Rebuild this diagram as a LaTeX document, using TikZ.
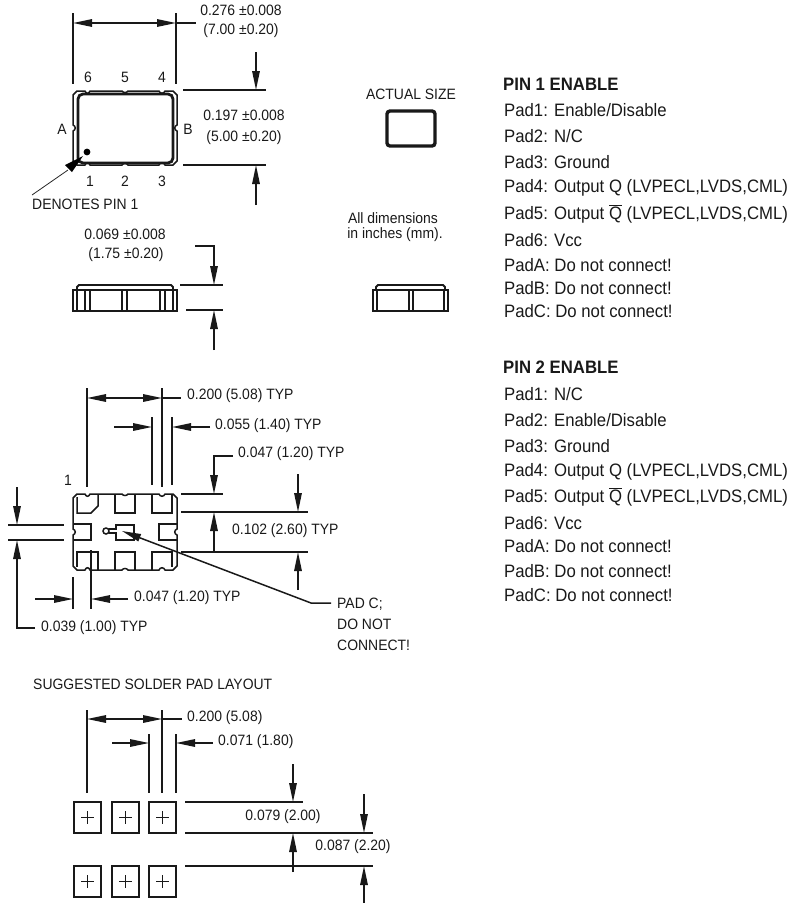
\documentclass[tikz,border=0pt]{standalone}
\usepackage{fontspec}
\setmainfont[FakeStretch=0.93]{Liberation Sans}
\usetikzlibrary{arrows.meta}
\tikzset{
  ln/.style={line width=1.5pt,black!90},
  thin ln/.style={line width=0.8pt,black!85},
  dimA/.style={ln,-{Triangle[length=19pt,width=7.5pt]}},
  dimB/.style={ln,{Triangle[length=19pt,width=7.5pt]}-{Triangle[length=19pt,width=7.5pt]}},
  txt/.style={inner sep=0pt,anchor=west,font=\fontsize{15}{15}\selectfont,text=black!90},
  ctr/.style={txt,anchor=center},
  pin/.style={inner sep=0pt,anchor=west,font=\fontsize{18}{18}\selectfont,text=black!90},
  hd/.style={pin,font=\fontsize{18}{18}\selectfont\bfseries},
  square/.style={line width=1.5pt,black!90}
}
\newcommand{\Outline}[2]{%
  \pgfmathsetmacro{\mm}{(#1+#2)/2}%
  \draw[ln] (77,#1) -- (85,#1) .. controls (86,{#1+3}) and (89,{#1+3}) .. (90,#1)
    -- (122,#1) .. controls (123,{#1+2}) and (127,{#1+2}) .. (128,#1)
    -- (159,#1) .. controls (160,{#1+3}) and (164,{#1+3}) .. (165,#1)
    -- (173,#1) -- (177,{#1+4}) -- (177,{\mm-3}) .. controls (174,{\mm-2}) and (174,{\mm+2}) .. (177,{\mm+3})
    -- (177,{#2-4}) -- (173,#2) -- (165,#2) .. controls (164,{#2-3}) and (160,{#2-3}) .. (159,#2)
    -- (128,#2) .. controls (127,{#2-2}) and (123,{#2-2}) .. (122,#2)
    -- (90,#2) .. controls (89,{#2-3}) and (86,{#2-3}) .. (85,#2)
    -- (77,#2) -- (73,{#2-4}) -- (73,{\mm+3}) .. controls (76,{\mm+2}) and (76,{\mm-2}) .. (73,{\mm-3})
    -- (73,{#1+4}) -- cycle;}
\newcommand{\SqPad}[2]{%
  \draw[square] (#1,#2) rectangle ++(27,31);
  \draw[ln] ({#1+13.5-6.5},{#2+15.5}) -- ++(13,0) ({#1+13.5},{#2+9}) -- ++(0,13);}
\newcommand{\Qb}{$\overline{\mbox{Q}}$}
\begin{document}
\begin{tikzpicture}[x=1pt,y=-1pt]
\useasboundingbox (0,0) rectangle (789,903);
% ---- top view
\Outline{91}{165}
\draw[line width=2.8pt,black!90,rounded corners=5pt] (78,94) rectangle (173,163);
\fill[black] (87,152) circle (3.4);
\draw[ln] (73,13) -- (73,84) (176,13) -- (176,84);
\draw[dimB] (73,23) -- (176,23);
\draw[ln] (176,23) -- (196,23);
\node[ctr] (t1) at (241,10) {0.276 ±0.008};
\node[ctr] (t2) at (241,31) {(7.00 ±0.20)};
\foreach \n/\x/\l in {a6/88/6,a5/125/5,a4/162/4}{\node[ctr] (\n) at (\x,77) {\l};}
\foreach \n/\x/\l in {a1/90/1,a2/125/2,a3/162/3}{\node[ctr] (\n) at (\x,181) {\l};}
\node[ctr] (aA) at (62,129) {A};
\node[ctr] (aB) at (188,129) {B};
\draw[ln] (183,90) -- (266,90) (183,165) -- (266,165);
\draw[dimA] (256,52) -- (256,90);
\draw[dimA] (256,205) -- (256,165);
\node[ctr] (t3) at (244,115) {0.197 ±0.008};
\node[ctr] (t4) at (244,138) {(5.00 ±0.20)};
\fill[black] (83,156) -- (72,172) -- (65,165) -- cycle;
\draw[thin ln] (32,195) -- (68,170);
\node[txt] (den) at (32,204) {DENOTES PIN 1};
% ---- side view
\draw[ln] (73,290) rectangle (177,311);
\draw[line width=1.8pt,black!90] (77,290) -- (77,287) -- (79,285) -- (171,285) -- (173,287) -- (173,290);
\foreach \x in {77,85,90,122,127,160,165,173}{\draw[ln] (\x,290) -- (\x,311);}
\node[ctr] (s1) at (125,234) {0.069 ±0.008};
\node[ctr] (s2) at (126,255) {(1.75 ±0.20)};
\draw[dimA] (195,246) -- (214,246) -- (214,285);
\draw[ln] (180,285) -- (223,285) (186,310) -- (223,310);
\draw[dimA] (214,350) -- (214,310);
% ---- actual size
\node[ctr] (act) at (411,94) {ACTUAL SIZE};
\draw[line width=3.4pt,black!90,rounded corners=3pt] (387,111) rectangle (435,146);
\node[ctr] (all1) at (393,218) {All dimensions};
\node[ctr] (all2) at (395,235) {in inches (mm).};
\draw[ln] (373,290) rectangle (448,311);
\draw[line width=1.8pt,black!90] (376,290) -- (376,287) -- (378,285) -- (443,285) -- (445,287) -- (445,290);
\foreach \x in {377,409,413,444}{\draw[ln] (\x,290) -- (\x,311);}
% ---- bottom view
\Outline{494}{570}
\draw[ln] (77,497) -- (77,513) -- (91,513) -- (98,506) -- (98,494);
\draw[ln] (115,494) -- (115,513) -- (135,513) -- (135,494);
\draw[ln] (152,494) -- (152,513) -- (172,513) -- (172,494);
\draw[ln] (73,524) -- (91,524) -- (91,540) -- (73,540);
\draw[ln] (177,524) -- (159,524) -- (159,540) -- (177,540);
\draw[ln] (77,567) -- (77,552) -- (98,552) -- (98,570);
\draw[ln] (115,570) -- (115,552) -- (135,552) -- (135,570);
\draw[ln] (152,570) -- (152,552) -- (172,552) -- (172,567);
\draw[ln] (109,529) -- (116,529) -- (116,525) -- (134,525) -- (134,540) -- (116,540) -- (116,533) -- (109,533);
\draw[ln] (106,531) circle (3);
\node[ctr] (one) at (68,480) {1};
\draw[ln] (87,388) -- (87,487) (162,388) -- (162,487);
\draw[dimB] (87,398) -- (162,398);
\draw[ln] (162,398) -- (181,398);
\node[txt] (b1) at (187,396) {0.200 (5.08) TYP};
\draw[ln] (152,417) -- (152,485) (172,417) -- (172,485);
\draw[dimA] (114,427) -- (152,427);
\draw[dimA] (210,427) -- (172,427);
\node[txt] (b2) at (215,426) {0.055 (1.40) TYP};
\draw[dimA] (233,456) -- (214,456) -- (214,494);
\draw[ln] (181,494) -- (223,494) (181,512) -- (308,512) (181,552) -- (308,552);
\draw[dimA] (214,552) -- (214,512);
\node[txt] (b3) at (238,454) {0.047 (1.20) TYP};
\draw[dimA] (298,474) -- (298,512);
\draw[dimA] (298,590) -- (298,552);
\node[txt] (b4) at (232,531) {0.102 (2.60) TYP};
\draw[dimA] (331,603) -- (311,603) -- (122,531);
\node[txt] (p1) at (337,604) {PAD C;};
\node[txt] (p2) at (337,624) {DO NOT};
\node[txt] (p3) at (337,645) {CONNECT!};
\draw[ln] (8,525) -- (64,525) (8,540) -- (64,540);
\draw[dimA] (17,487) -- (17,525);
\draw[dimA] (35,628) -- (17,628) -- (17,540);
\node[txt] (b5) at (41,628) {0.039 (1.00) TYP};
\draw[ln] (73,577) -- (73,609) (91,550) -- (91,609);
\draw[dimA] (35,599) -- (73,599);
\draw[dimA] (128,599) -- (91,599);
\node[txt] (b6) at (134,598) {0.047 (1.20) TYP};
% ---- solder layout
\node[txt] (sg) at (33,684) {SUGGESTED SOLDER PAD LAYOUT};
\draw[ln] (87,710) -- (87,793) (162,710) -- (162,793);
\draw[dimB] (87,719) -- (162,719);
\draw[ln] (162,719) -- (182,719);
\node[txt] (l1) at (187,718) {0.200 (5.08)};
\draw[ln] (149,734) -- (149,793) (176,734) -- (176,793);
\draw[dimA] (112,743) -- (149,743);
\draw[dimA] (213,743) -- (176,743);
\node[txt] (l2) at (218,742) {0.071 (1.80)};
\SqPad{74}{802}\SqPad{112}{802}\SqPad{149}{802}
\SqPad{74}{866}\SqPad{112}{866}\SqPad{149}{866}
\draw[ln] (185,802) -- (303,802) (185,833) -- (373,833) (185,866) -- (373,866);
\draw[dimA] (293,764) -- (293,802);
\draw[dimA] (293,872) -- (293,833);
\node[ctr] (l3) at (283,817) {0.079 (2.00)};
\draw[dimA] (364,794) -- (364,833);
\draw[dimA] (364,903) -- (364,866);
\node[ctr] (l4) at (353,847) {0.087 (2.20)};
% ---- right text
\node[hd] (h1) at (503,84) {PIN 1 ENABLE};
\node[pin] (r1) at (504,110) {Pad1: Enable/Disable};
\node[pin] (r2) at (504,136) {Pad2: N/C};
\node[pin] (r3) at (504,162) {Pad3: Ground};
\node[pin] (r4) at (504,188) {Pad4: Output Q (LVPECL,LVDS,CML)};
\node[pin] (r5) at (504,214) {Pad5: Output \Qb{} (LVPECL,LVDS,CML)};
\node[pin] (r6) at (504,240) {Pad6: Vcc};
\node[pin] (r7) at (504,265) {PadA: Do not connect!};
\node[pin] (r8) at (504,288) {PadB: Do not connect!};
\node[pin] (r9) at (504,311) {PadC: Do not connect!};
\node[hd] (h2) at (503,367) {PIN 2 ENABLE};
\node[pin] (q1) at (504,394) {Pad1: N/C};
\node[pin] (q2) at (504,420) {Pad2: Enable/Disable};
\node[pin] (q3) at (504,446) {Pad3: Ground};
\node[pin] (q4) at (504,472) {Pad4: Output Q (LVPECL,LVDS,CML)};
\node[pin] (q5) at (504,497) {Pad5: Output \Qb{} (LVPECL,LVDS,CML)};
\node[pin] (q6) at (504,523) {Pad6: Vcc};
\node[pin] (q7) at (504,546) {PadA: Do not connect!};
\node[pin] (q8) at (504,571) {PadB: Do not connect!};
\node[pin] (q9) at (504,595) {PadC: Do not connect!};
\end{tikzpicture}
\end{document}
